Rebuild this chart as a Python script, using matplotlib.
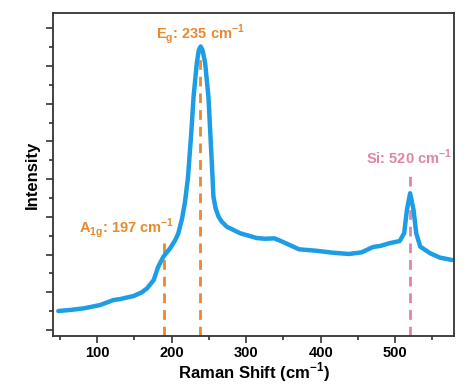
import matplotlib.pyplot as plt
from matplotlib.ticker import MultipleLocator

plt.rcParams['font.family'] = ['Liberation Sans', 'DejaVu Sans']

# Raman spectrum (arbitrary intensity units)
shift = [48, 65, 82, 104, 122, 131, 149, 160, 167, 176, 182, 189, 198, 205,
         209, 214, 218, 222, 226.5, 229.5, 233.8, 236.5, 239, 241.5, 245,
         249.4, 251.7, 254, 256.1, 259, 263, 267, 274, 292, 314, 325, 338,
         350, 371, 393, 416, 438, 455, 470, 480, 492, 506, 512, 515.7, 520,
         524.6, 528.2, 533.6, 547, 560, 576]
intensity = [504, 535, 575, 663, 796, 822, 902, 1000, 1105, 1326, 1679, 1944,
             2167, 2387, 2564, 2950, 3400, 4050, 5260, 6188, 7074, 7420, 7515,
             7420, 7074, 6188, 5305, 4422, 3536, 3230, 3005, 2880, 2740, 2565,
             2440, 2420, 2430, 2330, 2140, 2104, 2051, 2016, 2060, 2200, 2230,
             2300, 2360, 2565, 3183, 3626, 3183, 2565, 2210, 2034, 1920, 1857]

peak_pos = [189.5, 238, 520]
peak_top = [2450, 7515, 4244]
peak_colors = ['#e8892f', '#e8892f', '#e283a8']

fig = plt.figure(figsize=(4.74, 3.85), dpi=100)
ax = fig.add_axes([0.112, 0.127, 0.846, 0.839])

ymin, ymax = -160, 8400
for x, top, c in zip(peak_pos, peak_top, peak_colors):
    ax.plot([x, x], [ymin, top], color=c, lw=2, ls=(0, (3.5, 2.5)), zorder=1)

ax.plot(shift, intensity, color='#1c9de5', lw=3.2, zorder=2,
        solid_joinstyle='round', solid_capstyle='round')

ax.text(238, 7526, r'E$_\mathregular{g}$: 235 cm$^\mathregular{-1}$',
        color='#e8892f', fontsize=10.5, fontweight='bold', ha='center', va='bottom')
ax.text(203, 2385, r'A$_\mathregular{1g}$: 197 cm$^\mathregular{-1}$',
        color='#e8892f', fontsize=10.5, fontweight='bold', ha='right', va='bottom')
ax.text(518, 4315, r'Si: 520 cm$^\mathregular{-1}$',
        color='#e283a8', fontsize=10.5, fontweight='bold', ha='center', va='bottom')

ax.set_xlim(41, 579)
ax.set_ylim(ymin, ymax)
ax.xaxis.set_major_locator(MultipleLocator(100))
ax.xaxis.set_minor_locator(MultipleLocator(50))
ax.yaxis.set_major_locator(MultipleLocator(1000))
ax.yaxis.set_minor_locator(MultipleLocator(500))
ax.set_yticklabels([])
ax.tick_params(which='both', direction='out', color='#333333', width=1.2)
ax.tick_params(which='major', length=5)
ax.tick_params(which='minor', length=3)
ax.tick_params(axis='x', labelsize=10.5, pad=2)
for lab in ax.get_xticklabels():
    lab.set_fontweight('bold')
for sp in ax.spines.values():
    sp.set_color('#333333')
    sp.set_linewidth(1.3)

ax.set_xlabel(r'Raman Shift (cm$^\mathregular{-1}$)', fontsize=12, fontweight='bold',
              va='center')
ax.xaxis.set_label_coords(0.5, -0.113)
ax.set_ylabel('Intensity', fontsize=12, fontweight='bold', va='center')
ax.yaxis.set_label_coords(-0.052, 0.5)

fig.savefig('out.png', dpi=100)
